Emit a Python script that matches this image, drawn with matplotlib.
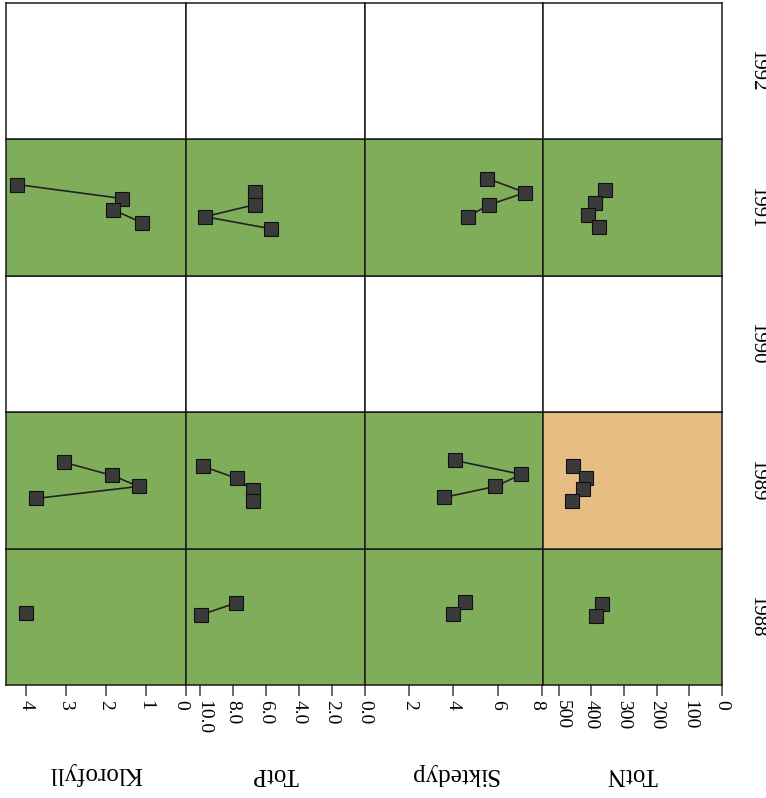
import numpy as np
import matplotlib
matplotlib.use("Agg")
import matplotlib.pyplot as plt
import matplotlib.transforms as mtransforms

plt.rcParams['font.family'] = ['Liberation Serif', 'DejaVu Serif']

years = [1988, 1989, 1990, 1991, 1992]
variables = ['Klorofyll', 'TotP', 'Siktedyp', 'TotN']

# background class of each cell (per year, per variable): g=good, m=moderate, w=no data
cell_class = {
    1988: ['g', 'g', 'g', 'g'],
    1989: ['g', 'g', 'g', 'm'],
    1990: ['w', 'w', 'w', 'w'],
    1991: ['g', 'g', 'g', 'g'],
    1992: ['w', 'w', 'w', 'w'],
}

# sampling time within the year (month-like units); nan breaks the line
klorofyll_month = {1988: [5.65], 1989: [4.41, 5.56, 6.53, 7.59],
                   1991: [3.97, 5.2, np.nan, 6.18, 7.33]}
klorofyll_value = {1988: [4.0], 1989: [3.05, 1.85, 1.18, 3.75],
                   1991: [4.22, 1.6, np.nan, 1.83, 1.1]}

totp_month = {1988: [4.77, 5.83], 1989: [4.77, 5.83, 6.88, 7.85],
              1991: [4.59, np.nan, 5.74, 6.8, 7.86]}
totp_value = {1988: [7.8, 9.94], 1989: [9.8, 7.76, 6.8, 6.8],
              1991: [6.67, np.nan, 6.67, 9.7, 5.7]}

siktedyp_month = {1988: [4.68, np.nan, 5.74], 1989: [4.24, 5.47, 6.53, 7.5],
                  1991: [3.44, 4.68, 5.74, 6.8]}
siktedyp_value = {1988: [4.5, np.nan, 3.96], 1989: [4.05, 7.07, 5.9, 3.56],
                  1991: [5.54, 7.25, 5.63, 4.64]}

totn_month = {1988: [4.85, 5.91], 1989: [4.77, 5.83, 6.8, 7.85],
              1991: [4.41, 5.56, 6.62, 7.68]}
totn_value = {1988: [368, 387], 1989: [455, 415, 427, 458],
              1991: [359, 390, 409, 378]}

series = {
    'Klorofyll': (klorofyll_month, klorofyll_value, '-'),
    'TotP': (totp_month, totp_value, '-'),
    'Siktedyp': (siktedyp_month, siktedyp_value, '-'),
    'TotN': (totn_month, totn_value, 'none'),
}

x_limits = {'Klorofyll': (4.5, 0), 'TotP': (10.85, 0),
            'Siktedyp': (0, 8.05), 'TotN': (548, 0)}
x_ticks = {'Klorofyll': [4, 3, 2, 1, 0],
           'TotP': [10, 8, 6, 4, 2, 0],
           'Siktedyp': [2, 4, 6, 8],
           'TotN': [500, 400, 300, 200, 100, 0]}
x_ticklabels = {'Klorofyll': ['4', '3', '2', '1', '0'],
                'TotP': ['10.0', '8.0', '6.0', '4.0', '2.0', '0.0'],
                'Siktedyp': ['2', '4', '6', '8'],
                'TotN': ['500', '400', '300', '200', '100', '0']}

colors = {'g': '#80ad5a', 'm': '#e6bd82', 'w': '#ffffff'}

W, H = 766, 798
fig = plt.figure(figsize=(W / 100, H / 100), dpi=100)

col_edges = [6, 186, 365, 543, 722]
top, bottom = 3, 685
row_h = (bottom - top) / len(years)

# small horizontal nudges (points) for crowded edge labels: (variable, label index)
label_nudge = {('Klorofyll', 4): -4, ('TotP', 0): 3, ('Siktedyp', 3): -4, ('TotN', 0): 3}

for ri, year in enumerate(years):
    y_bot_px = bottom - ri * row_h
    for ci, var in enumerate(variables):
        x0 = col_edges[ci]
        x1 = col_edges[ci + 1]
        ax = fig.add_axes([x0 / W, 1 - y_bot_px / H, (x1 - x0) / W, row_h / H])
        ax.set_facecolor(colors[cell_class[year][ci]])
        ax.set_xlim(*x_limits[var])
        ax.set_ylim(12, 0)
        ax.set_yticks([])
        for s in ax.spines.values():
            s.set_linewidth(1.1)
            s.set_color('#1a1a1a')
        months, values, ls = series[var]
        if year in months:
            ax.plot(values[year], months[year], linestyle=ls, color='#222222',
                    linewidth=1.2, marker='s', markersize=9.5,
                    markerfacecolor='#3a3a3a', markeredgecolor='#111111',
                    markeredgewidth=0.8)
        if ri == 0:
            ax.set_xticks(x_ticks[var])
            labels = ax.set_xticklabels(x_ticklabels[var], rotation=-90, fontsize=14)
            ax.tick_params(axis='x', direction='out', length=8, width=1.1,
                           color='#553355', pad=3)
            for li, lab in enumerate(labels):
                dx = label_nudge.get((var, li), 0)
                if dx:
                    lab.set_transform(lab.get_transform() +
                                      mtransforms.ScaledTranslation(dx / 72, 0, fig.dpi_scale_trans))
            ax.text(0.5, -0.65, var, transform=ax.transAxes, rotation=180,
                    ha='center', va='center', fontsize=18)
        else:
            ax.set_xticks([])
        if ci == len(variables) - 1:
            ax.text(1.0 + 35 / (x1 - x0), 0.5, str(year), transform=ax.transAxes,
                    rotation=-90, ha='center', va='center', fontsize=15)

fig.savefig('out.png', dpi=100)
